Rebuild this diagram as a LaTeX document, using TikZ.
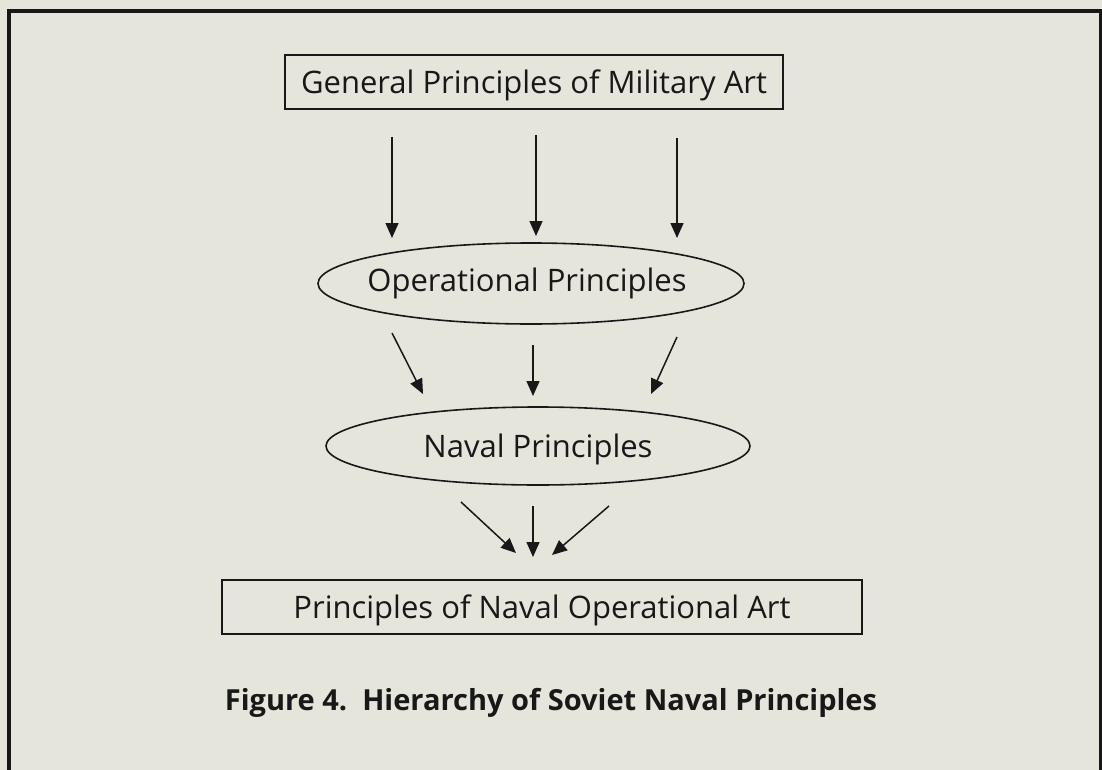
\documentclass[tikz,border=0pt]{standalone}
\usepackage{fontspec}
\setmainfont{Open Sans}
\usetikzlibrary{shapes.geometric,arrows.meta}
\definecolor{paper}{RGB}{229,229,219}
\definecolor{ink}{RGB}{24,24,24}
\begin{document}
\begin{tikzpicture}[x=1pt,y=-1pt,
  lbl/.style={font=\fontsize{31}{36}\selectfont, text=ink},
  box/.style={lbl, draw=ink, line width=1.8pt, rectangle, inner sep=0pt, text depth=0pt},
  oval/.style={draw=ink, line width=1.6pt, ellipse, inner sep=0pt},
  flow/.style={draw=ink, line width=1.5pt, -{Triangle[width=13pt,length=15pt]}},
  frame/.style={draw=ink, line width=3.8pt}]
\fill[paper] (0,0) rectangle (1102,770);
\useasboundingbox (0,0) rectangle (1102,770);
\draw[frame] (8.8,770) -- (8.8,11.3) -- (1100.5,11.3) -- (1100.5,770);
\node[box, minimum width=498pt, minimum height=54pt] (gen) at (534,82) {General Principles of Military Art};
\node[oval, minimum width=426pt, minimum height=81pt, label={[lbl, xshift=-4pt]center:Operational Principles}] (ops) at (531,283.5) {};
\node[oval, minimum width=424pt, minimum height=78pt, label={[lbl, yshift=-3pt]center:Naval Principles}] (nav) at (538,446) {};
\node[box, minimum width=640pt, minimum height=54pt] (art) at (542,607) {Principles of Naval Operational Art};
\node[font=\bfseries\fontsize{29}{34}\selectfont, text=ink, anchor=base] (cap) at (551,710) {Figure 4.\ \ Hierarchy of Soviet Naval Principles};
% arrow end points
\coordinate (g1) at (392,137); \coordinate (o1) at (392,238);
\coordinate (g2) at (536,135); \coordinate (o2) at (536,236);
\coordinate (g3) at (677,138); \coordinate (o3) at (677,238);
\coordinate (p1) at (392,333); \coordinate (n1) at (423,394);
\coordinate (p2) at (533,345); \coordinate (n2) at (533,396);
\coordinate (p3) at (677,337); \coordinate (n3) at (651,394);
\coordinate (v1) at (461,502); \coordinate (a1) at (516,553);
\coordinate (v2) at (533,506); \coordinate (a2) at (533,557);
\coordinate (v3) at (609,506); \coordinate (a3) at (552,555);
\draw[flow] (g1) -- (o1);
\draw[flow] (g2) -- (o2);
\draw[flow] (g3) -- (o3);
\draw[flow] (p1) -- (n1);
\draw[flow] (p2) -- (n2);
\draw[flow] (p3) -- (n3);
\draw[flow] (v1) -- (a1);
\draw[flow] (v2) -- (a2);
\draw[flow] (v3) -- (a3);
\end{tikzpicture}
\end{document}
